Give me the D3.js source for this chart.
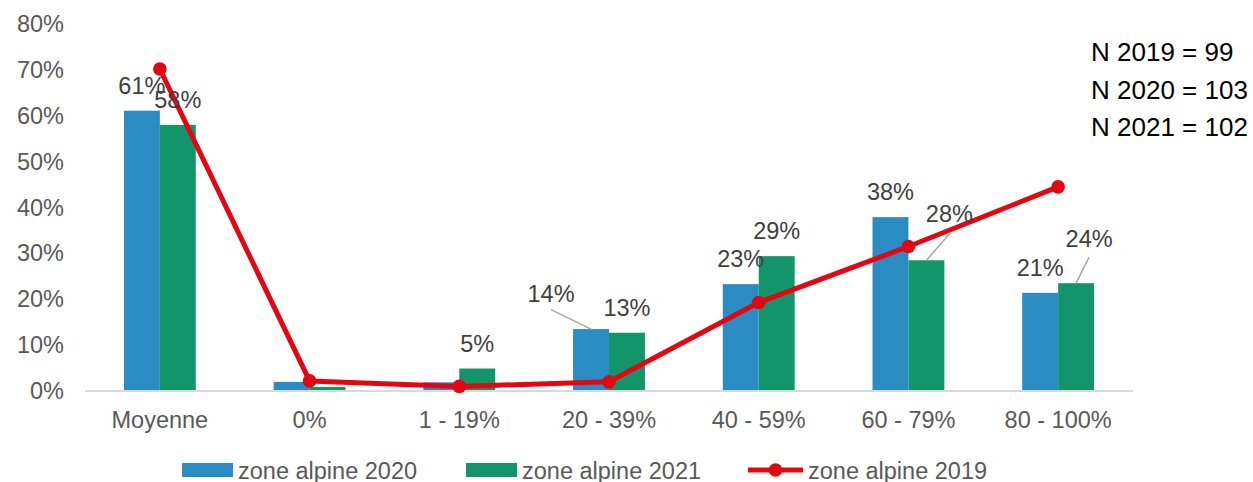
<!DOCTYPE html>
<html><head><meta charset="utf-8">
<script src="https://cdn.jsdelivr.net/npm/d3@7"></script>
<style>
html,body{margin:0;padding:0;background:#fff;}
svg{display:block;}
text{font-family:"Liberation Sans",Arial,sans-serif;}
</style></head>
<body>
<svg id="chart" width="1253" height="482"></svg>
<script>
const categories = ["Moyenne","0%","1 - 19%","20 - 39%","40 - 59%","60 - 79%","80 - 100%"];
const values2020 = [0.611, 0.020, 0.019, 0.135, 0.233, 0.379, 0.214];
const values2021 = [0.580, 0.009, 0.049, 0.127, 0.294, 0.285, 0.235];
const values2019 = [0.702, 0.022, 0.010, 0.020, 0.193, 0.315, 0.445];
const labels2020 = ["61%", null, null, "14%", "23%", "38%", "21%"];
const labels2021 = ["58%", null, "5%", "13%", "29%", "28%", "24%"];
const yTicks = [0,0.1,0.2,0.3,0.4,0.5,0.6,0.7,0.8];
const seriesNames = ["zone alpine 2020","zone alpine 2021","zone alpine 2019"];
const nLines = ["N 2019 = 99","N 2020 = 103","N 2021 = 102"];

const C_BLUE = "#2A8CC2", C_GREEN = "#13956C", C_RED = "#E30613";
const svg = d3.select("#chart");

const x0 = d3.scaleBand().domain(categories).range([85,1133]).paddingInner(0.52).paddingOuter(0.26);
const x1 = d3.scaleBand().domain(["2020","2021"]).range([0,x0.bandwidth()]);
const y = d3.scaleLinear().domain([0,0.8]).range([391,24]);
const pct = d3.format(".0%");

// y axis
const yAxis = d3.axisLeft(y).tickValues(yTicks).tickFormat(pct).tickSize(0).tickPadding(0);
const gy = svg.append("g").attr("transform","translate(64,0)").call(yAxis);
gy.select(".domain").remove();
gy.selectAll("text").attr("font-size","23.5px").attr("fill","#595959").attr("font-family","Liberation Sans, Arial, sans-serif");

// bars
const g = svg.append("g");
categories.forEach((c,i)=>{
  [["2020",values2020[i],C_BLUE],["2021",values2021[i],C_GREEN]].forEach(([k,v,col])=>{
    g.append("rect").attr("x",x0(c)+x1(k)).attr("width",x1.bandwidth())
      .attr("y",y(v)).attr("height",y(0)-y(v)).attr("fill",col);
  });
});

// x axis
const xAxis = d3.axisBottom(x0).tickSize(0).tickPadding(20);
const gx = svg.append("g").attr("transform","translate(0,391)").call(xAxis);
gx.select(".domain").attr("stroke","#D9D9D9").attr("stroke-width",2).attr("d","M85,0H1133");
gx.selectAll("text").attr("font-size","23.5px").attr("fill","#595959").attr("font-family","Liberation Sans, Arial, sans-serif");

// line 2019
const cx = c => x0(c)+x0.bandwidth()/2;
const line = d3.line().x((d,i)=>cx(categories[i])).y(d=>y(d));
svg.append("path").datum(values2019).attr("d",line).attr("fill","none")
  .attr("stroke",C_RED).attr("stroke-width",5).attr("stroke-linejoin","round");
svg.selectAll("circle.pt").data(values2019).join("circle").attr("class","pt")
  .attr("cx",(d,i)=>cx(categories[i])).attr("cy",d=>y(d)).attr("r",6.8).attr("fill",C_RED);

// data labels: [dx, dy of baseline, leader top offset below baseline, leader top dx]
const offsets2020 = {3:[-40,-27.5,8,0]};
const offsets2021 = {5:[23,-38,10,1.5], 6:[13,-36,10,0]};
function addLabels(vals, labs, key, offs){
  vals.forEach((v,i)=>{
    if(!labs[i]) return;
    const bx = x0(categories[i])+x1(key)+x1.bandwidth()/2;
    const by = y(v);
    let tx = bx, ty = by-17;
    if(offs[i]){
      const o = offs[i];
      tx = bx+o[0]; ty = by+o[1];
      svg.append("line").attr("x1",bx).attr("y1",by)
        .attr("x2",tx+o[3]).attr("y2",ty+o[2])
        .attr("stroke","#A6A6A6").attr("stroke-width",1.5);
    }
    svg.append("text").attr("x",tx).attr("y",ty).attr("text-anchor","middle")
      .attr("font-size","23.5px").attr("fill","#404040").text(labs[i]);
  });
}
addLabels(values2020, labels2020, "2020", offsets2020);
addLabels(values2021, labels2021, "2021", offsets2021);

// legend
const lg = svg.append("g");
const legendX = [182, 466, 748];
lg.append("rect").attr("x",legendX[0]).attr("y",463).attr("width",51).attr("height",14).attr("fill",C_BLUE);
lg.append("rect").attr("x",legendX[1]).attr("y",463).attr("width",51).attr("height",14).attr("fill",C_GREEN);
lg.append("line").attr("x1",legendX[2]).attr("x2",legendX[2]+55).attr("y1",470).attr("y2",470).attr("stroke",C_RED).attr("stroke-width",5);
lg.append("circle").attr("cx",legendX[2]+27.5).attr("cy",470).attr("r",6.8).attr("fill",C_RED);
seriesNames.forEach((s,i)=>{
  lg.append("text").attr("x",legendX[i]+(i===2?60:56)).attr("y",478.5).attr("font-size","23.5px").attr("fill","#595959").text(s);
});

// N text
nLines.forEach((t,i)=>{
  svg.append("text").attr("x",1091).attr("y",61+i*37.5).attr("font-family","Lato, sans-serif")
    .attr("font-size","26px").attr("font-weight",500).attr("fill","#000").text(t);
});
</script>
</body></html>
